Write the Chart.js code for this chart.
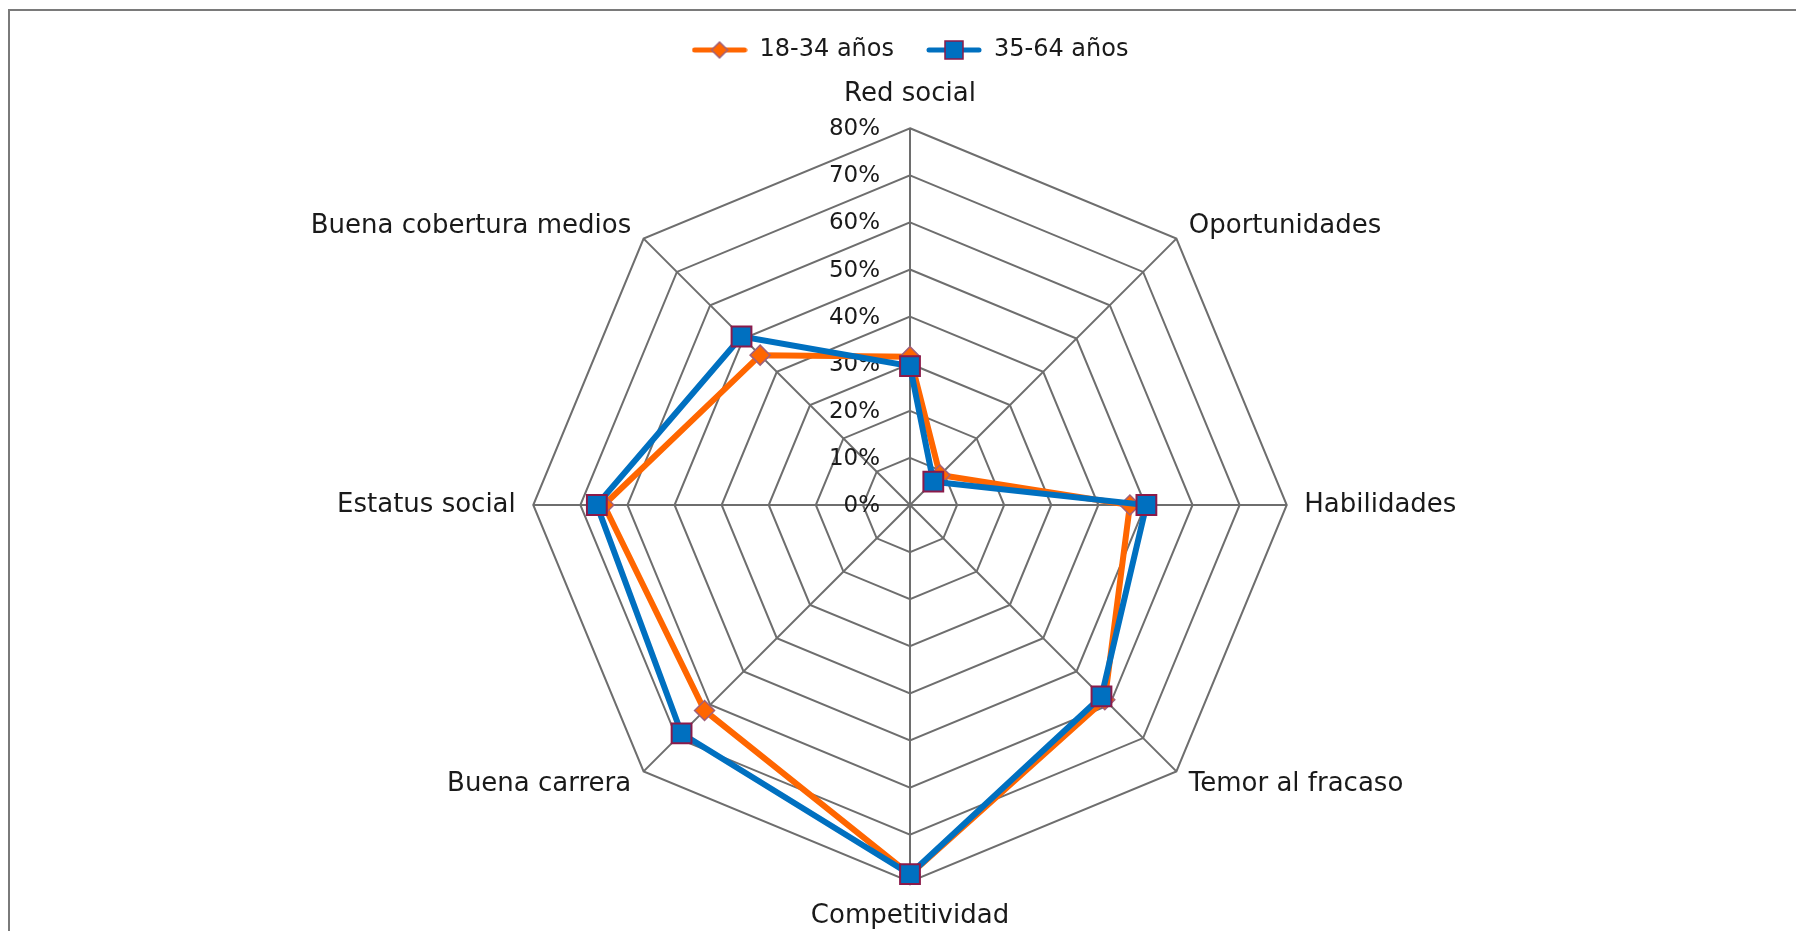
<!DOCTYPE html>
<html>
<head>
<meta charset="utf-8">
<script src="https://cdn.jsdelivr.net/npm/chart.js@4.4.1/dist/chart.umd.min.js"></script>
<style>
  html, body { margin: 0; padding: 0; background: #fff; overflow: hidden; }
  #wrap { position: relative; width: 1796px; height: 931px; overflow: hidden; }
  #frame { position: absolute; left: 8px; top: 9px; width: 2000px; height: 1000px; border: 2px solid #7a7a7a; box-sizing: border-box; }
  #chart { position: absolute; left: 0; top: 0; }
</style>
</head>
<body>
<div id="wrap">
  <div id="frame"></div>
  <canvas id="chart" width="1796" height="931"></canvas>
</div>
<script>
// categorías (en sentido horario desde arriba)
const categories = ['Red social', 'Oportunidades', 'Habilidades', 'Temor al fracaso',
                    'Competitividad', 'Buena carrera', 'Estatus social', 'Buena cobertura medios'];

// porcentajes por grupo de edad
const young = [31.5, 9, 46.7, 58.5, 78.5, 61.7, 65, 45];      // 18-34 años
const older = [29.5, 7, 50.2, 57.5, 78.4, 68.6, 66.5, 50.6];  // 35-64 años

const seriesNames = ['18-34 años', '35-64 años'];

// etiquetas del eje
const tickValues = [0, 10, 20, 30, 40, 50, 60, 70, 80];
const tickLabels = ['0%', '10%', '20%', '30%', '40%', '50%', '60%', '70%', '80%'];

const FONT = 'DejaVu Sans';
const ORANGE = '#FF6600';
const BLUE = '#0070C0';

// iconos de la leyenda: línea con marcador
function legendIcon(color, marker, border) {
    const c = document.createElement('canvas');
    c.width = 56; c.height = 24;
    const g = c.getContext('2d');
    g.strokeStyle = color;
    g.lineWidth = 5;
    g.lineCap = 'round';
    g.beginPath(); g.moveTo(3, 12); g.lineTo(53, 12); g.stroke();
    g.fillStyle = color;
    g.strokeStyle = border;
    g.lineWidth = 1.5;
    g.beginPath();
    if (marker === 'diamond') {
        g.moveTo(28, 4); g.lineTo(36, 12); g.lineTo(28, 20); g.lineTo(20, 12); g.closePath();
    } else {
        g.rect(19, 3, 18, 18);
    }
    g.fill(); g.stroke();
    return c;
}
const icons = [legendIcon(BLUE, 'square', '#8B1A4A'), legendIcon(ORANGE, 'diamond', '#A0607A')];

// etiquetas de ticks a la izquierda del eje vertical
const tickLabelPlugin = {
    id: 'tickLabels',
    beforeDatasetsDraw(chart) {
        const r = chart.scales.r;
        const ctx = chart.ctx;
        ctx.save();
        ctx.font = '23px "' + FONT + '"';
        ctx.fillStyle = '#1a1a1a';
        ctx.textAlign = 'right';
        ctx.textBaseline = 'middle';
        tickValues.forEach((v, i) => {
            const d = r.getDistanceFromCenterForValue(v);
            ctx.fillText(tickLabels[i], r.xCenter - 30, r.yCenter - d + 1);
        });
        ctx.restore();
    }
};

const ctx = document.getElementById('chart').getContext('2d');
new Chart(ctx, {
    type: 'radar',
    data: {
        labels: categories,
        datasets: [
            {
                label: seriesNames[1],
                data: older,
                borderColor: BLUE,
                backgroundColor: BLUE,
                borderWidth: 6,
                fill: false,
                pointStyle: 'rect',
                pointRadius: 14,
                pointBackgroundColor: BLUE,
                pointBorderColor: '#8B1A4A',
                pointBorderWidth: 2
            },
            {
                label: seriesNames[0],
                data: young,
                borderColor: ORANGE,
                backgroundColor: ORANGE,
                borderWidth: 6,
                fill: false,
                pointStyle: 'rectRot',
                pointRadius: 10,
                pointBackgroundColor: ORANGE,
                pointBorderColor: '#A0607A',
                pointBorderWidth: 1.5
            }
        ]
    },
    options: {
        responsive: false,
        animation: false,
        devicePixelRatio: 1,
        layout: { padding: { top: 6, left: 24, right: 0, bottom: 15 } },
        elements: { line: { tension: 0 } },
        scales: {
            r: {
                min: 0,
                max: 80,
                ticks: { display: false, stepSize: 10 },
                grid: { color: '#6e6e6e', lineWidth: 2 },
                angleLines: { color: '#6e6e6e', lineWidth: 2 },
                pointLabels: {
                    color: '#1a1a1a',
                    font: { family: FONT, size: 26, lineHeight: 0.01 },
                    padding: (c) => (c.index % 4 === 0 ? 34 : 17.5)
                }
            }
        },
        plugins: {
            tooltip: { enabled: false },
            // título vacío usado como separador entre la leyenda y el gráfico
            title: {
                display: true,
                text: '',
                weight: 500,
                font: { size: 10, lineHeight: 1 },
                padding: { top: 0, bottom: 12 }
            },
            legend: {
                position: 'top',
                reverse: true,
                labels: {
                    usePointStyle: true,
                    pointStyleWidth: 56,
                    padding: 32,
                    color: '#1a1a1a',
                    font: { family: FONT, size: 24 },
                    generateLabels(chart) {
                        const items = Chart.defaults.plugins.legend.labels.generateLabels(chart);
                        items.forEach(it => { it.pointStyle = icons[it.datasetIndex]; });
                        return items;
                    }
                }
            }
        }
    },
    plugins: [tickLabelPlugin]
});
</script>
</body>
</html>
